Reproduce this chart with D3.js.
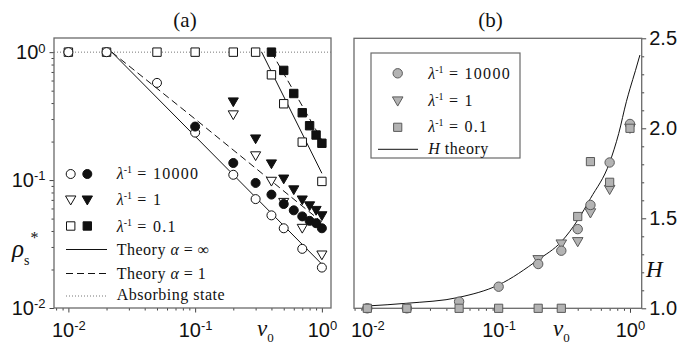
<!DOCTYPE html>
<html><head><meta charset="utf-8">
<script src="https://cdn.jsdelivr.net/npm/d3@7"></script>
<style>body{margin:0;background:#fff}</style>
</head><body>
<svg id="c" width="680" height="347"></svg>
<script>
// ---------- DATA ----------
// panel (a): rho_s* vs v0
const aOpenCircV   = [0.01,0.02,0.05,0.1,0.2,0.3,0.4,0.5,0.7,1.0];
const aOpenCircRho = [1,1,0.575,0.235,0.110,0.071,0.053,0.042,0.029,0.0207];
const aFillCircV   = [0.1,0.2,0.3,0.4,0.5,0.6,0.7,0.8,0.9,1.0];
const aFillCircRho = [0.262,0.136,0.095,0.077,0.065,0.058,0.052,0.048,0.046,0.042];
const aOpenTriV    = [0.2,0.3,0.4,0.5,0.7,1.0];
const aOpenTriRho  = [0.324,0.155,0.098,0.067,0.042,0.026];
const aFillTriV    = [0.2,0.3,0.4,0.5,0.6,0.7,0.8,0.9,1.0];
const aFillTriRho  = [0.409,0.21,0.134,0.102,0.084,0.070,0.063,0.058,0.0527];
const aOpenSqV     = [0.01,0.02,0.05,0.1,0.2,0.3,0.4,0.5,0.7,1.0];
const aOpenSqRho   = [1,1,1,1,1,1,0.665,0.395,0.198,0.0976];
const aFillSqV     = [0.4,0.5,0.6,0.7,0.8,0.9,1.0];
const aFillSqRho   = [1,0.72,0.475,0.336,0.266,0.225,0.194];
// theory lines
const thInfV   = [0.022,1.0];   const thInfRho   = [1,0.022];
const thA1V    = [0.022,0.1,1.0]; const thA1Rho  = [1,0.30,0.047];
const thInf2V  = [0.335,1.0];   const thInf2Rho  = [1,0.113];
const thA1_2V  = [0.40,1.0];    const thA1_2Rho  = [1,0.205];
const absorbingRho = 1;

// panel (b): H vs v0
const bCircV = [0.01,0.02,0.05,0.1,0.2,0.3,0.4,0.5,0.7,1.0];
const bCircH = [1.0,1.0,1.037,1.12,1.246,1.32,1.44,1.574,1.81,2.024];
const bTriV  = [0.2,0.3,0.4,0.5,0.7,1.0];
const bTriH  = [1.27,1.357,1.37,1.53,1.66,2.0];
const bSqV   = [0.01,0.02,0.05,0.1,0.2,0.3,0.4,0.5,0.7,1.0];
const bSqH   = [1,1,1,1,1,1,1.51,1.815,1.70,2.0];
const hThV   = [0.01,0.02,0.05,0.1,0.2,0.3,0.4,0.5,0.7,0.82,0.94,1.0,1.1,1.19];
const hThH   = [1.013,1.028,1.061,1.13,1.27,1.37,1.49,1.61,1.81,1.97,2.15,2.22,2.32,2.407];

// axis ranges / ticks
const aXDomain = [0.0077, 1.18];
const aYDomain = [0.01, 1.29];
const bXDomain = [0.00792, 1.228];
const bYDomain = [1.0, 2.5];
const logMajor = [0.01, 0.1, 1];
const bYMajor = [1.0, 1.5, 2.0, 2.5];
const bYMajorLabels = ["1.0","1.5","2.0","2.5"];

// ---------- DRAW ----------
const SANS = "'Liberation Sans', Arial, Helvetica, sans-serif";
const SERIF = "'Liberation Serif', 'Times New Roman', Times, serif";
const svg = d3.select("#c");

const A = {l:54, r:331, t:38, b:308};
const B = {l:354, r:641.7, t:38.3, b:308.3};

const xA = d3.scaleLog().domain(aXDomain).range([A.l, A.r]);
const yA = d3.scaleLog().domain(aYDomain).range([A.b, A.t]);
const xB = d3.scaleLog().domain(bXDomain).range([B.l, B.r]);
const yB = d3.scaleLinear().domain(bYDomain).range([B.b, B.t]);

function logMinor(dom){
  const out=[];
  for(let e=-3;e<=1;e++) for(let m=2;m<=9;m++){
    const v=+(m*Math.pow(10,e)).toPrecision(6);
    if(v>=dom[0] && v<=dom[1]) out.push(v);
  }
  return out;
}
function powLabels(g){
  g.selectAll(".tick text").each(function(d){
    const t=d3.select(this); t.text(null);
    const e=Math.round(Math.log10(d));
    t.append("tspan").text("10");
    t.append("tspan").attr("dy","-0.5em").attr("font-size","13px").text(String(e));
  });
}
function styleAxis(g){
  g.select(".domain").remove();
  g.selectAll(".tick line").attr("stroke","#444").attr("stroke-width",1);
  g.selectAll(".tick text").attr("fill","#111").attr("font-family",SANS).attr("font-size","20px");
}

// Panel A axes
svg.append("g").attr("transform",`translate(0,${A.b})`)
  .call(d3.axisBottom(xA).tickValues(logMinor(aXDomain)).tickSize(2.5).tickFormat(""))
  .call(styleAxis);
svg.append("g").attr("transform",`translate(0,${A.b})`)
  .call(d3.axisBottom(xA).tickValues(logMajor).tickSize(4.5).tickPadding(10).tickFormat(d=>""))
  .call(styleAxis).call(powLabels);
svg.append("g").attr("transform",`translate(${A.l},0)`)
  .call(d3.axisLeft(yA).tickValues(logMinor(aYDomain)).tickSize(2.5).tickFormat(""))
  .call(styleAxis);
svg.append("g").attr("transform",`translate(${A.l},0)`)
  .call(d3.axisLeft(yA).tickValues(logMajor).tickSize(4.5).tickPadding(4).tickFormat(d=>""))
  .call(styleAxis).call(powLabels);

// Panel B axes
svg.append("g").attr("transform",`translate(0,${B.b})`)
  .call(d3.axisBottom(xB).tickValues(logMinor(bXDomain)).tickSize(2.5).tickFormat(""))
  .call(styleAxis);
svg.append("g").attr("transform",`translate(0,${B.b})`)
  .call(d3.axisBottom(xB).tickValues(logMajor).tickSize(4.5).tickPadding(10).tickFormat(d=>""))
  .call(styleAxis).call(powLabels);
const bMinorY = d3.range(11,25).map(v=>v/10).filter(v=>!bYMajor.includes(v));
svg.append("g").attr("transform",`translate(${B.r},0)`)
  .call(d3.axisRight(yB).tickValues(bMinorY).tickSize(2.5).tickFormat(""))
  .call(styleAxis);
svg.append("g").attr("transform",`translate(${B.r},0)`)
  .call(d3.axisRight(yB).tickValues(bYMajor).tickSize(4.5).tickPadding(3)
        .tickFormat((d,i)=>bYMajorLabels[i]))
  .call(styleAxis);

// frames
[A,B].forEach(p=>{
  svg.append("rect").attr("x",p.l).attr("y",p.t).attr("width",p.r-p.l).attr("height",p.b-p.t)
    .attr("fill","none").attr("stroke","#6a6a6a").attr("stroke-width",1.3);
});

// marker paths
function markerPath(type, s){
  if(type==="circle") return d3.symbol(d3.symbolCircle, Math.PI*s*s)();
  if(type==="square") return `M${-s},${-s}H${s}V${s}H${-s}Z`;
  if(type==="tri") { const w=s*1.15, h=s*1.05; return `M${-w},${-h*0.85}H${w}L0,${h*1.05}Z`; }
}
function drawMarkers(g, xs, ys, xsc, ysc, type, size, fill, stroke){
  g.selectAll(null).data(xs.map((v,i)=>[v,ys[i]])).join("path")
    .attr("d", markerPath(type,size))
    .attr("transform", d=>`translate(${xsc(d[0])},${ysc(d[1])})`)
    .attr("fill", fill).attr("stroke", stroke).attr("stroke-width",1);
}

// ---------- Panel A content ----------
const gA = svg.append("g");
const lineA = d3.line().x(d=>xA(d[0])).y(d=>yA(d[1]));
gA.append("path").attr("d", lineA([[aXDomain[0],absorbingRho],[aXDomain[1],absorbingRho]]))
  .attr("stroke","#777").attr("stroke-width",1).attr("stroke-dasharray","1,2").attr("fill","none");
const zipA=(v,r)=>v.map((x,i)=>[x,r[i]]);
[[thInfV,thInfRho,null],[thInf2V,thInf2Rho,null],[thA1V,thA1Rho,"7,4"],[thA1_2V,thA1_2Rho,"7,4"]]
 .forEach(([v,r,dash])=>{
  gA.append("path").attr("d", lineA(zipA(v,r))).attr("fill","none").attr("stroke","#111")
    .attr("stroke-width",1).attr("stroke-dasharray",dash);
 });
drawMarkers(gA, aOpenSqV, aOpenSqRho, xA, yA, "square", 4.2, "#fff", "#111");
drawMarkers(gA, aOpenCircV, aOpenCircRho, xA, yA, "circle", 4.5, "#fff", "#111");
drawMarkers(gA, aOpenTriV, aOpenTriRho, xA, yA, "tri", 4.4, "#fff", "#111");
drawMarkers(gA, aFillCircV, aFillCircRho, xA, yA, "circle", 4.5, "#111", "#111");
drawMarkers(gA, aFillTriV, aFillTriRho, xA, yA, "tri", 4.4, "#111", "#111");
drawMarkers(gA, aFillSqV, aFillSqRho, xA, yA, "square", 4.2, "#111", "#111");

// legend A
const legA = svg.append("g").attr("font-family",SERIF).attr("font-size","16px").attr("fill","#111");
function lamText(g, x, y, val){
  const t=g.append("text").attr("x",x).attr("y",y);
  t.append("tspan").attr("font-style","italic").text("λ");
  t.append("tspan").attr("dy","-6").attr("font-size","10px").text("-1");
  t.append("tspan").attr("dy","6").attr("letter-spacing","1.3px").text(" = " + val);
}
const legRowsA = [
  {type:"circle", y:174, ty:178.5, val:"10000"},
  {type:"tri", y:200, ty:205, val:"1"},
  {type:"square", y:226, ty:231.5, val:"0.1"}
];
legRowsA.forEach(r=>{
  legA.append("path").attr("d",markerPath(r.type, r.type==="square"?4.2:4.5)).attr("transform",`translate(70.7,${r.y})`)
    .attr("fill","#fff").attr("stroke","#111");
  legA.append("path").attr("d",markerPath(r.type, r.type==="square"?4.2:4.5)).attr("transform",`translate(87.3,${r.y})`)
    .attr("fill","#111").attr("stroke","#111");
  lamText(legA, 116.7, r.ty, r.val);
});
const legLinesA = [
  {y:249.5, ty:255, dash:null, color:"#111", label:["Theory ","α"," = ∞"]},
  {y:273.5, ty:278.5, dash:"7,4", color:"#111", label:["Theory ","α"," = 1"]},
  {y:296, ty:299.5, dash:"1,2", color:"#777", label:["Absorbing state"]}
];
legLinesA.forEach(r=>{
  legA.append("line").attr("x1",66).attr("x2",107).attr("y1",r.y).attr("y2",r.y)
    .attr("stroke",r.color).attr("stroke-width",1).attr("stroke-dasharray",r.dash);
  const t=legA.append("text").attr("x",116.7).attr("y",r.ty).attr("letter-spacing","0.5px");
  r.label.forEach((s,i)=>t.append("tspan").attr("font-style", i===1?"italic":null).text(s));
});

// ---------- Panel B content ----------
const gB = svg.append("g");
const lineB = d3.line().x(d=>xB(d[0])).y(d=>yB(d[1])).curve(d3.curveMonotoneX);
gB.append("path").attr("d", lineB(hThV.map((v,i)=>[v,hThH[i]]))).attr("fill","none")
  .attr("stroke","#111").attr("stroke-width",1);
const GF="#b3b3b3", GS="#5a5a5a";
drawMarkers(gB, bTriV, bTriH, xB, yB, "tri", 4.6, GF, GS);
drawMarkers(gB, bCircV, bCircH, xB, yB, "circle", 4.7, GF, GS);
drawMarkers(gB, bSqV, bSqH, xB, yB, "square", 4.1, GF, GS);

// legend B
svg.append("rect").attr("x",371).attr("y",53).attr("width",149).attr("height",105)
  .attr("fill","#fff").attr("stroke","#6a6a6a").attr("stroke-width",1.2);
const legB = svg.append("g").attr("font-family",SERIF).attr("font-size","16px").attr("fill","#111");
[{type:"circle",y:73.3,ty:78.5,val:"10000"},{type:"tri",y:101,ty:106,val:"1"},{type:"square",y:127.3,ty:131.7,val:"0.1"}]
 .forEach(r=>{
  legB.append("path").attr("d",markerPath(r.type, r.type==="square"?4.1:r.type==="tri"?4.6:4.7))
    .attr("transform",`translate(397.7,${r.y})`).attr("fill",GF).attr("stroke",GS);
  lamText(legB, 428.3, r.ty, r.val);
 });
legB.append("line").attr("x1",378).attr("x2",418).attr("y1",149.3).attr("y2",149.3)
  .attr("stroke","#111").attr("stroke-width",1);
const ht=legB.append("text").attr("x",428.3).attr("y",154).attr("letter-spacing","0.5px");
ht.append("tspan").attr("font-style","italic").text("H");
ht.append("tspan").text(" theory");

// ---------- Titles & axis labels ----------
const lab = svg.append("g").attr("font-family",SERIF).attr("fill","#111");
lab.append("text").attr("x",185).attr("y",27).attr("text-anchor","middle").attr("font-size","21px").text("(a)");
lab.append("text").attr("x",490.5).attr("y",27).attr("text-anchor","middle").attr("font-size","21px").text("(b)");
[[257,336],[553,336]].forEach(([x,y])=>{
  const t=lab.append("text").attr("x",x).attr("y",y).attr("font-size","23px");
  t.append("tspan").attr("font-style","italic").text("v");
  t.append("tspan").attr("dy","6").attr("font-size","13px").text("0");
});
lab.append("text").attr("x",646).attr("y",277).attr("font-size","23px").attr("font-style","italic").text("H");
const rt=lab.append("text").attr("x",12).attr("y",257).attr("font-size","25px");
rt.append("tspan").attr("font-style","italic").text("ρ");
rt.append("tspan").attr("dy","8").attr("font-size","14px").text("s");
rt.append("tspan").attr("dy","-22").attr("dx","1").attr("font-size","16px").text("*");
</script>
</body></html>
